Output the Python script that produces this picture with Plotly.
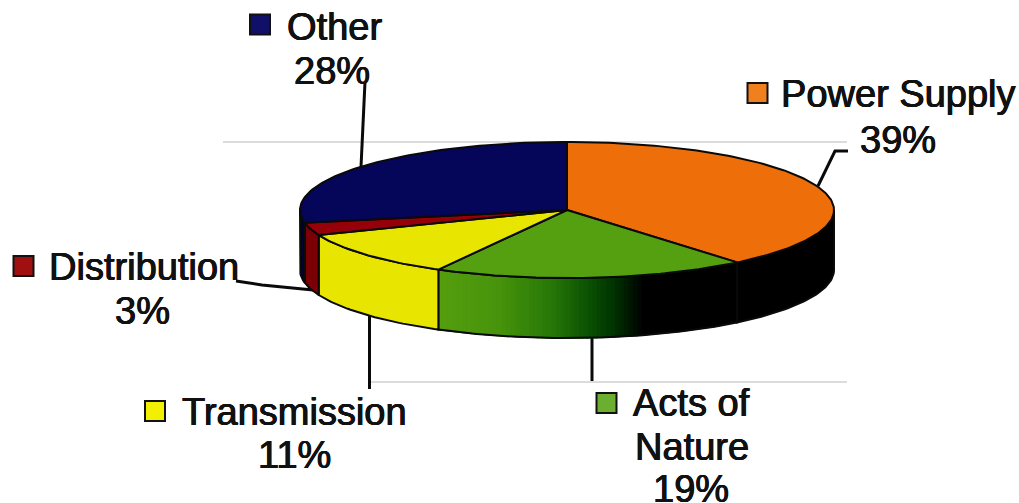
import math
import plotly.graph_objects as go

labels = ["Power Supply", "Acts of Nature", "Transmission", "Distribution", "Other"]
values = [39, 19, 11, 3, 28]
colors = ["#EE6E0A", "#55A010", "#E8E600", "#960008", "#05055A"]
side_colors = ["#000000", None, "#E8E600", "#7A0006", "#02022E"]
swatch_colors = ["#F0801E", "#6CAE30", "#F2F000", "#A01010", "#101068"]

# label text lines: (text, x, y)
label_lines = [
    ("Other", 334, 27), ("28%", 332, 71),
    ("Power Supply", 898, 94), ("39%", 898, 140),
    ("Distribution", 144, 267), ("3%", 142, 311),
    ("Transmission", 294, 412), ("11%", 294, 455),
    ("Acts of", 691, 403), ("Nature", 692, 447), ("19%", 691, 489),
]
swatch_x = [757.5, 606.5, 155, 23.5, 260]
swatch_y = [93, 403, 411, 266, 24.5]

# leader lines and faint rules
leaders = [
    ([365, 361], [82, 167]),
    ([818, 835, 848], [186, 151, 151]),
    ([236, 262, 313], [281, 285, 290]),
    ([369.5, 369.5], [316, 389]),
    ([592, 592], [338, 381]),
]
rules = [([223, 847], [142, 142]), ([371, 847], [382, 382])]

CX, CY, RX, RY, DEPTH = 567, 210, 267, 68, 60
OUTLINE = "#0a0a0a"

def pt(t, dz=0):
    a = math.radians(t)
    return CX + RX * math.sin(a), CY - RY * math.cos(a) + dz

def arc(t0, t1, dz=0, step=1.0):
    n = max(2, int(abs(t1 - t0) / step) + 1)
    return [pt(t0 + (t1 - t0) * i / (n - 1), dz) for i in range(n)]

def poly(points, fill, line_color, width):
    xs = [p[0] for p in points] + [points[0][0]]
    ys = [p[1] for p in points] + [points[0][1]]
    return go.Scatter(x=xs, y=ys, mode="lines", fill="toself", fillcolor=fill,
                      line=dict(color=line_color, width=width), hoverinfo="skip",
                      showlegend=False)

def green_side(frac):
    stops = [(0.0, (84, 158, 14)), (0.2, (72, 148, 12)), (0.37, (40, 120, 8)),
             (0.49, (10, 80, 3)), (0.57, (0, 50, 0)), (0.66, (0, 0, 0)), (1.0, (0, 0, 0))]
    for (f0, c0), (f1, c1) in zip(stops, stops[1:]):
        if frac <= f1:
            k = (frac - f0) / (f1 - f0)
            c = [round(a + (b - a) * k) for a, b in zip(c0, c1)]
            return "rgb(%d,%d,%d)" % tuple(c)
    return "rgb(0,0,0)"

fig = go.Figure()
for xs, ys in rules:
    fig.add_trace(go.Scatter(x=xs, y=ys, mode="lines", line=dict(color="#b9b9b9", width=1),
                             hoverinfo="skip", showlegend=False))
for xs, ys in leaders:
    fig.add_trace(go.Scatter(x=xs, y=ys, mode="lines", line=dict(color="#0a0a0a", width=3),
                             hoverinfo="skip", showlegend=False))

# angular extents from the values, clockwise from 12 o'clock
total = sum(values)
extents = []
acc = 0
for v in values:
    extents.append((acc * 360 / total, (acc + v) * 360 / total))
    acc += v

# side walls (visible front half only)
for i, (t0, t1) in enumerate(extents):
    a, b = max(t0, 90), min(t1, 270)
    if a >= b:
        continue
    if side_colors[i] is None:
        # solid backing so no seams show between the gradient strips
        fig.add_trace(poly(arc(a, b) + arc(b, a, DEPTH), "#000000", "#000000", 1))
        strips = 70
        for s in range(strips):
            s0 = a + (b - a) * s / strips
            s1 = a + (b - a) * (s + 1) / strips
            frac = 1 - (s + 0.5) / strips
            if frac > 0.66:
                continue
            c = green_side(frac)
            fig.add_trace(poly(arc(s0, s1) + arc(s1, s0, DEPTH), c, c, 1.2))
        top = arc(a, b)
        bottom = arc(b, a, DEPTH)
        pts = top + bottom + [top[0]]
        fig.add_trace(go.Scatter(x=[p[0] for p in pts], y=[p[1] for p in pts], mode="lines",
                                 line=dict(color=OUTLINE, width=2), hoverinfo="skip",
                                 showlegend=False))
    else:
        fig.add_trace(poly(arc(a, b) + arc(b, a, DEPTH), side_colors[i], OUTLINE, 2))

# top faces
for i, (t0, t1) in enumerate(extents):
    fig.add_trace(poly([(CX, CY)] + arc(t0, t1), colors[i], OUTLINE, 2))

fig.add_trace(go.Scatter(x=swatch_x, y=swatch_y, mode="markers",
                         marker=dict(symbol="square", size=20, color=swatch_colors,
                                     line=dict(color="#111111", width=2)),
                         hoverinfo="skip", showlegend=False))

annotations = [dict(x=x, y=y, text=t, showarrow=False, xanchor="center", yanchor="middle",
                    font=dict(family="Liberation Sans, Arial, sans-serif", size=38, color="#111111",
                              shadow="0.6px 0 0 #111111, -0.4px 0 0 #111111, 0 0.4px 0 #111111"))
               for t, x, y in label_lines]

fig.update_layout(
    width=1019, height=503, margin=dict(l=0, r=0, t=0, b=0),
    paper_bgcolor="white", plot_bgcolor="white", showlegend=False,
    xaxis=dict(range=[0, 1019], visible=False, fixedrange=True),
    yaxis=dict(range=[503, 0], visible=False, fixedrange=True),
    annotations=annotations,
)
fig.write_html("out.html", config={"displayModeBar": False},
               post_script="document.body.style.margin='0';")
